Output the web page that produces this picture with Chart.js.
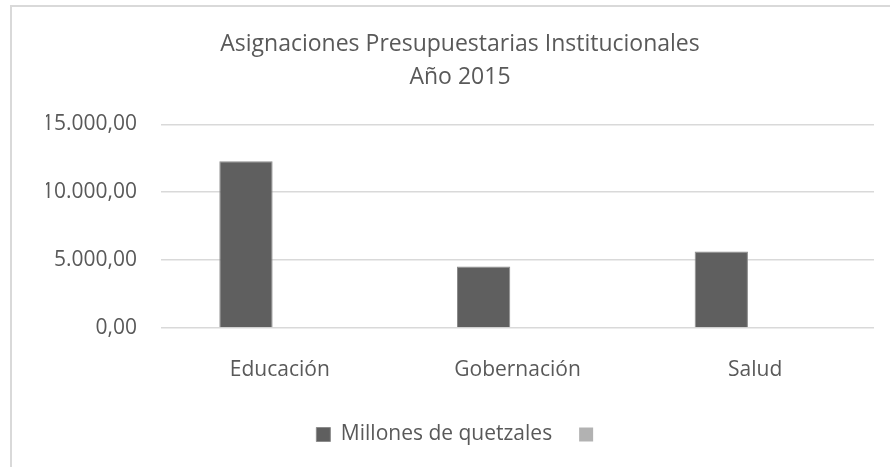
<!DOCTYPE html>
<html>
<head>
<meta charset="utf-8">
<script src="https://cdn.jsdelivr.net/npm/chart.js@4"></script>
<style>
    body { margin: 0; background: #fff; overflow: hidden; }
    #frame { position: absolute; left: 10px; top: 5px; width: 1000px; height: 1000px; border: 2px solid #d9d9d9; }
    #wrap { position: absolute; left: 0; top: 0; width: 890px; height: 467px; }
</style>
</head>
<body>
<div id="frame"></div>
<div id="wrap"><canvas id="chart"></canvas></div>
<script>
// Chart data
const categories = ["Educación", "Gobernación", "Salud"];
const millones = [12280, 4530, 5630];
const serie2 = [null, null, null]; // second series, no visible bars
const yTicks = [0, 5000, 10000, 15000];

const textColor = "#595959";
const fontFamily = "'Open Sans', sans-serif";

// 15000 -> "15.000,00"
function formatNumber(v) {
    const parts = Math.abs(v).toFixed(2).split(".");
    const intPart = parts[0].replace(/\B(?=(\d{3})+(?!\d))/g, ".");
    return (v < 0 ? "-" : "") + intPart + "," + parts[1];
}

const ctx = document.getElementById("chart").getContext("2d");

new Chart(ctx, {
    type: "bar",
    data: {
        labels: categories,
        datasets: [
            {
                label: "Millones de quetzales",
                data: millones,
                backgroundColor: "#5f5f5f",
                borderColor: "#8c8c8c",
                borderWidth: 1,
                categoryPercentage: 0.57,
                barPercentage: 0.787
            },
            {
                label: "",
                data: serie2,
                backgroundColor: "#b2b2b2",
                borderWidth: 0,
                categoryPercentage: 0.57,
                barPercentage: 0.787
            }
        ]
    },
    options: {
        responsive: true,
        maintainAspectRatio: false,
        animation: false,
        layout: {
            padding: { left: 46, right: 16, top: 0, bottom: 12 }
        },
        plugins: {
            title: {
                display: true,
                text: ["Asignaciones Presupuestarias Institucionales", "Año 2015"],
                color: textColor,
                font: { family: fontFamily, size: 23, weight: "normal", lineHeight: 1.42 },
                padding: { top: 28, bottom: 31 }
            },
            legend: {
                display: true,
                position: "bottom",
                labels: {
                    color: textColor,
                    font: { family: fontFamily, size: 21 },
                    boxWidth: 14,
                    boxHeight: 14,
                    padding: 27
                }
            },
            tooltip: { enabled: false }
        },
        scales: {
            x: {
                grid: { display: false },
                border: { display: false },
                afterFit: function (scale) {
                    scale.height = 69;
                },
                ticks: {
                    color: textColor,
                    font: { family: fontFamily, size: 21 },
                    padding: 21
                }
            },
            y: {
                min: 0,
                max: 15000,
                afterBuildTicks: function (scale) {
                    scale.ticks = yTicks.map(v => ({ value: v }));
                },
                afterFit: function (scale) {
                    scale.width = 115;
                },
                grid: { color: "#d9d9d9", lineWidth: 1.5, drawTicks: false },
                border: { display: false },
                ticks: {
                    color: textColor,
                    font: { family: fontFamily, size: 21 },
                    padding: 24,
                    callback: function (value) {
                        return formatNumber(value);
                    }
                }
            }
        }
    }
});
</script>
</body>
</html>
